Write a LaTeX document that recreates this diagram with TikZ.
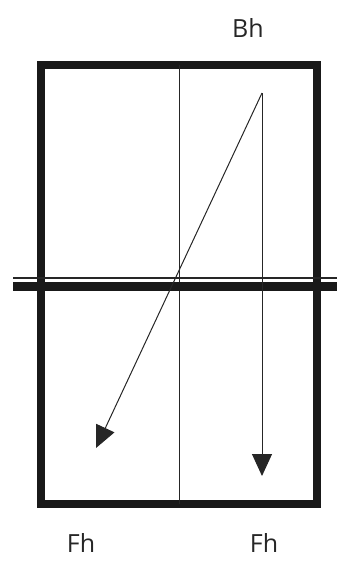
\documentclass[tikz,border=0pt]{standalone}
\usepackage{fontspec}
\setmainfont{Open Sans}
\usetikzlibrary{arrows.meta}
\tikzset{
  frame/.style={line width=8pt, draw=black!90},
  band/.style={line width=9pt, draw=black!90},
  thinline/.style={line width=1.4pt, draw=black!85},
  midline/.style={line width=1pt, draw=black!85},
  force/.style={line width=1pt, draw=black!85, -{Triangle[length=22pt,width=20pt]}},
  lbl/.style={font=\fontsize{25}{30}\selectfont, text=black!85, inner sep=0pt}
}
\begin{document}
\begin{tikzpicture}[x=1pt,y=-1pt]
\useasboundingbox (0,0) rectangle (337,565);
\draw[frame] (41,65) rectangle (317,504);
\coordinate (mtop) at (179,65);
\coordinate (mbot) at (179,504);
\draw[midline] (mtop) -- (mbot);
\coordinate (bl) at (13,286.5);
\coordinate (br) at (337,286.5);
\draw[band] (bl) -- (br);
\coordinate (tl) at (13,278);
\coordinate (tr) at (337,278);
\draw[thinline] (tl) -- (tr);
\coordinate (start) at (262,93);
\coordinate (endA) at (96,448);
\coordinate (endB) at (262,476);
\draw[force] (start) -- (endA);
\draw[force] (start) -- (endB);
\node[lbl] (bh) at (248,28) {Bh};
\node[lbl] (fh1) at (81,543) {Fh};
\node[lbl] (fh2) at (264,543) {Fh};
\end{tikzpicture}
\end{document}
